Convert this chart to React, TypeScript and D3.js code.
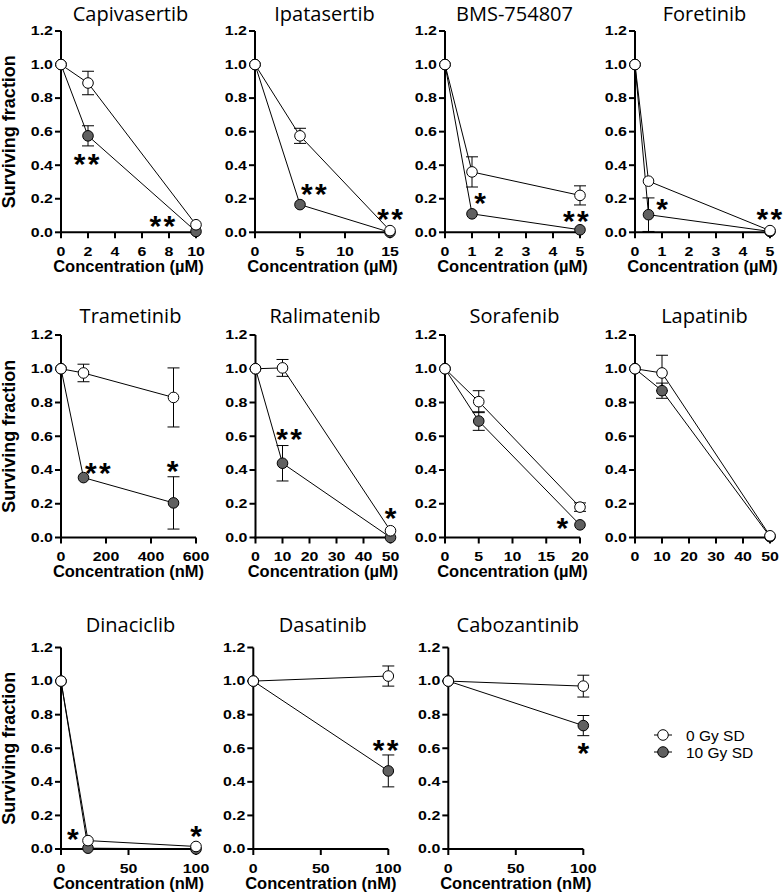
import React from "react";
import * as d3 from "d3";

// ---------- data ----------
const drugs = [
  "Capivasertib", "Ipatasertib", "BMS-754807", "Foretinib",
  "Trametinib", "Ralimatenib", "Sorafenib", "Lapatinib",
  "Dinaciclib", "Dasatinib", "Cabozantinib",
];
const xLabels = [
  "Concentration (µM)", "Concentration (µM)", "Concentration (µM)", "Concentration (µM)",
  "Concentration (nM)", "Concentration (µM)", "Concentration (µM)", "",
  "Concentration (nM)", "Concentration (nM)", "Concentration (nM)",
];
const doses = [
  [0, 2, 10], [0, 5, 15], [0, 1, 5], [0, 0.5, 5],
  [0, 100, 500], [0, 10, 50], [0, 5, 20], [0, 10, 50],
  [0, 20, 100], [0, 100], [0, 100],
];
const xMax = [10, 15, 5, 5, 600, 50, 20, 50, 100, 100, 100];
const xTicks = [
  [0, 2, 4, 6, 8, 10], [0, 5, 10, 15], [0, 1, 2, 3, 4, 5], [0, 1, 2, 3, 4, 5],
  [0, 200, 400, 600], [0, 10, 20, 30, 40, 50], [0, 5, 10, 15, 20], [0, 10, 20, 30, 40, 50],
  [0, 50, 100], [0, 50, 100], [0, 50, 100],
];
const yTicks = [0, 0.2, 0.4, 0.6, 0.8, 1.0, 1.2];

// 0 Gy SD (open circles)
const sf0 = [
  [1, 0.89, 0.045], [1, 0.575, 0.01], [1, 0.36, 0.22], [1, 0.305, 0.01],
  [1, 0.975, 0.83], [1, 1.005, 0.04], [1, 0.805, 0.18], [1, 0.975, 0.01],
  [1, 0.05, 0.015], [1, 1.03], [1, 0.97],
];
const sd0 = [
  [0, 0.07, 0], [0, 0.045, 0], [0, 0.09, 0.057], [0, 0, 0],
  [0, 0.052, 0.175], [0, 0.05, 0], [0, 0.065, 0.025], [0, 0.105, 0],
  [0, 0, 0], [0, 0.06], [0, 0.065],
];
// 10 Gy SD (filled circles)
const sf10 = [
  [1, 0.575, 0.005], [1, 0.165, 0.0], [1, 0.11, 0.015], [1, 0.105, 0.005],
  [1, 0.355, 0.205], [1, 0.44, 0.0], [1, 0.69, 0.075], [1, 0.87, 0.005],
  [1, 0.005, 0.0], [1, 0.465], [1, 0.735],
];
const sd10 = [
  [0, 0.06, 0], [0, 0, 0], [0, 0, 0], [0, 0.1, 0],
  [0, 0, 0.155], [0, 0.105, 0], [0, 0.055, 0], [0, 0.045, 0],
  [0, 0, 0], [0, 0.095], [0, 0.06],
];
// significance marks (x, y in data units; n = number of asterisks)
const starsX = [[1.9, 7.5], [6.55, 15.0], [1.3, 4.85], [1.0, 4.98], [164, 496], [12.4, 50], [17.4], [], [8.7, 100], [98], [100]];
const starsY = [[0.44, 0.073], [0.262, 0.113], [0.209, 0.103], [0.173, 0.113], [0.42, 0.43], [0.62, 0.153], [0.09], [], [0.094, 0.113], [0.628], [0.61]];
const starsN = [[2, 2], [2, 2], [1, 2], [1, 2], [2, 1], [2, 1], [1], [], [1, 1], [2], [1]];

const legendLabels = ["0 Gy SD", "10 Gy SD"];

// ---------- layout ----------
const rowTop = [31, 335, 647.5];
const rowBottom = [232.3, 537.5, 849];
const titleBase = [20.5, 323, 632];
const colLeft = [[61, 255, 445, 635], [61, 255.5, 445, 635], [61, 253.3, 448.3]];
const plotW = 135;
const GRAY = "#606060";
const R = 5.3;
const SANS = "'Liberation Sans', Arial, sans-serif";

function Panel({ i, x0, top, bottom, tBase, showY }: any) {
  const x = d3.scaleLinear().domain([0, xMax[i]]).range([x0, x0 + plotW]);
  const y = d3.scaleLinear().domain([0, 1.2]).range([bottom, top]);
  const line = d3.line<[number, number]>().x((d) => x(d[0])).y((d) => y(d[1]));
  const pts0 = doses[i].map((d, k) => [d, sf0[i][k]] as [number, number]);
  const pts10 = doses[i].map((d, k) => [d, sf10[i][k]] as [number, number]);
  const cx = x0 + plotW / 2;
  const err = (sf: number[], sd: number[], key: string) =>
    doses[i].map((d, k) =>
      sd[k] > 0 ? (
        <g key={key + k} stroke="#000" strokeWidth={1}>
          <line x1={x(d)} x2={x(d)} y1={y(sf[k] - sd[k])} y2={y(sf[k] + sd[k])} />
          <line x1={x(d) - 6} x2={x(d) + 6} y1={y(sf[k] + sd[k])} y2={y(sf[k] + sd[k])} />
          <line x1={x(d) - 6} x2={x(d) + 6} y1={y(sf[k] - sd[k])} y2={y(sf[k] - sd[k])} />
        </g>
      ) : null
    );
  return (
    <g>
      <text x={cx + 2} y={tBase} textAnchor="middle" fontFamily="'Open Sans', sans-serif" fontSize={20} fill="#000">
        {drugs[i]}
      </text>
      {/* axes */}
      <g stroke="#000" strokeWidth={2} fill="none">
        <line x1={x0} x2={x0} y1={y(1.2)} y2={y(0) + 1} />
        <line x1={x0 - 1} x2={x(xMax[i])} y1={y(0)} y2={y(0)} />
        {yTicks.map((t) => (
          <line key={"yt" + t} x1={x0 - 6} x2={x0} y1={y(t)} y2={y(t)} />
        ))}
        {xTicks[i].map((t) => (
          <line key={"xt" + t} x1={x(t)} x2={x(t)} y1={y(0)} y2={y(0) + 6} />
        ))}
      </g>
      {yTicks.map((t) => (
        <text key={"yl" + t} transform={`translate(${x0 - 8},${y(t) + 4.3}) scale(1.33,1)`} textAnchor="end"
          fontFamily={SANS} fontWeight="bold" fontSize={12} fill="#000">
          {t.toFixed(1)}
        </text>
      ))}
      {xTicks[i].map((t) => (
        <text key={"xl" + t} transform={`translate(${x(t)},${y(0) + 23.5}) scale(1.33,1)`} textAnchor="middle"
          fontFamily={SANS} fontWeight="bold" fontSize={12} fill="#000">
          {t}
        </text>
      ))}
      {xLabels[i] && (
        <text x={cx} y={y(0) + 39.5} textAnchor="middle" fontFamily={SANS} fontWeight="bold" fontSize={16.5} fill="#000">
          {xLabels[i]}
        </text>
      )}
      {showY && (
        <text transform={`translate(14.5,${(top + bottom) / 2}) rotate(-90)`} textAnchor="middle"
          fontFamily={SANS} fontWeight="bold" fontSize={18} fill="#000">
          Surviving fraction
        </text>
      )}
      {/* data */}
      <path d={line(pts10) || ""} fill="none" stroke="#000" strokeWidth={1} />
      <path d={line(pts0) || ""} fill="none" stroke="#000" strokeWidth={1} />
      {err(sf10[i], sd10[i], "e10")}
      {err(sf0[i], sd0[i], "e0")}
      {pts10.map((p, k) => (
        <circle key={"c10" + k} cx={x(p[0])} cy={y(p[1])} r={R} fill={GRAY} stroke="#000" strokeWidth={1} />
      ))}
      {pts0.map((p, k) => (
        <circle key={"c0" + k} cx={x(p[0])} cy={y(p[1])} r={R} fill="#fff" stroke="#000" strokeWidth={1} />
      ))}
      {starsX[i].map((sx, k) => {
        const n = starsN[i][k];
        const offs = n === 2 ? [-7, 7] : [0];
        return offs.map((o, j) => (
          <text key={"s" + k + "_" + j} x={x(sx) + o} y={y(starsY[i][k]) + 16} textAnchor="middle"
            fontFamily={SANS} fontWeight="bold" fontSize={30} fill="#000">
            *
          </text>
        ));
      })}
    </g>
  );
}

export default function App() {
  const panels: any[] = [];
  let idx = 0;
  colLeft.forEach((row, r) => {
    row.forEach((x0, c) => {
      panels.push(
        <Panel key={idx} i={idx} x0={x0} top={rowTop[r]} bottom={rowBottom[r]} tBase={titleBase[r]} showY={c === 0} />
      );
      idx++;
    });
  });
  const legY = [735, 752];
  return (
    <svg width={784} height={894} style={{ position: "absolute", left: 0, top: 0, background: "#fff" }}>
      <rect width={784} height={894} fill="#fff" />
      {panels}
      {legendLabels.map((lab, k) => (
        <g key={lab}>
          <line x1={654} x2={672} y1={legY[k]} y2={legY[k]} stroke="#000" strokeWidth={1} />
          <circle cx={663} cy={legY[k]} r={R} fill={k === 0 ? "#fff" : GRAY} stroke="#000" strokeWidth={1} />
          <text x={686} y={legY[k] + 5.5} fontFamily={SANS} fontSize={15.5} fill="#000">
            {lab}
          </text>
        </g>
      ))}
    </svg>
  );
}
